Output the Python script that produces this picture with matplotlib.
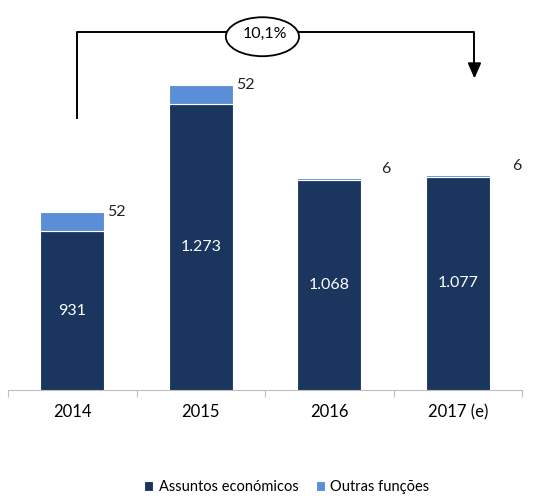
import numpy as np, matplotlib as mpl
mpl.use('Agg'); import matplotlib.pyplot as plt
from matplotlib.patches import Ellipse

mpl.rcParams.update({'font.family': ['Lato', 'DejaVu Sans'], 'font.size': 11.5})

years = ['2014', '2015', '2016', '2017 (e)']
economicos = [931, 1273, 1068, 1077]
outras = [52, 52, 6, 6]
growth_label = '10,1%'
DARK = '#1a365f'; LIGHT = '#5a8fd8'; GRID = '#bfbfbf'
# label nudges (points) for the small top segments
label_dx = [2, 2, 14, 16]

def fmt(v):
    return f'{v:,}'.replace(',', '.')

fig = plt.figure(figsize=(5.41, 4.96), dpi=100, facecolor='white')
ax = fig.add_axes([8/541, 106/496, 514/541, 380/496])
x = np.arange(len(years))
b1 = ax.bar(x, economicos, width=0.5, color=DARK, edgecolor='white', lw=0.8)
b2 = ax.bar(x, outras, width=0.5, bottom=economicos, color=LIGHT, edgecolor='white', lw=0.8)
ax.set_xlim(-0.5, 3.5); ax.set_ylim(503, 1527)

# labels inside dark bars (centred on the visible part)
lo = ax.get_ylim()[0]
for xi, v in zip(x, economicos):
    ax.text(xi, (lo + v) / 2, fmt(v), color='white', ha='center', va='center', fontsize=11.5)
for xi, v, o, dx in zip(x, economicos, outras, label_dx):
    ax.annotate(fmt(o), xy=(xi + 0.25, v + o / 2), xytext=(dx, 7), textcoords='offset points',
                ha='left', va='center', fontsize=11.5, color='#222')

# growth bracket 2014 -> 2017
yb = 1468
ax.plot([x[0] + 0.035, x[0] + 0.035, x[-1] + 0.13, x[-1] + 0.13],
        [1236, yb, yb, 1380], color='black', lw=1.4, clip_on=False)
ax.annotate('', xy=(x[-1] + 0.13, 1335), xytext=(x[-1] + 0.13, 1390),
            arrowprops=dict(arrowstyle='-|>,head_length=0.8,head_width=0.35', color='black', lw=1.4))
ax.add_patch(Ellipse((1.48, 1455), 0.57, 105, fc='white', ec='black', lw=1.3, zorder=5))
ax.text(1.5, 1462, growth_label, ha='center', va='center', fontsize=11.5, zorder=6)

for s in ('top', 'right', 'left'):
    ax.spines[s].set_visible(False)
ax.spines['bottom'].set_color(GRID)
ax.set_yticks([])
ax.set_xticks(np.arange(-0.5, 4, 1))
ax.set_xticklabels([])
ax.tick_params(axis='x', which='major', length=5, color=GRID, direction='out')
ax.set_xticks(x, minor=True)
ax.set_xticklabels(years, minor=True, fontsize=12)
ax.tick_params(axis='x', which='minor', length=0, pad=10)

fig.legend([b1, b2], ['Assuntos económicos', 'Outras funções'], loc='center',
           bbox_to_anchor=(0.53, 0.018), ncol=2, frameon=False, fontsize=10.5,
           handlelength=0.6, handleheight=0.6, handletextpad=0.4, columnspacing=1.2)
fig.savefig('out.png', dpi=100, facecolor='white')
